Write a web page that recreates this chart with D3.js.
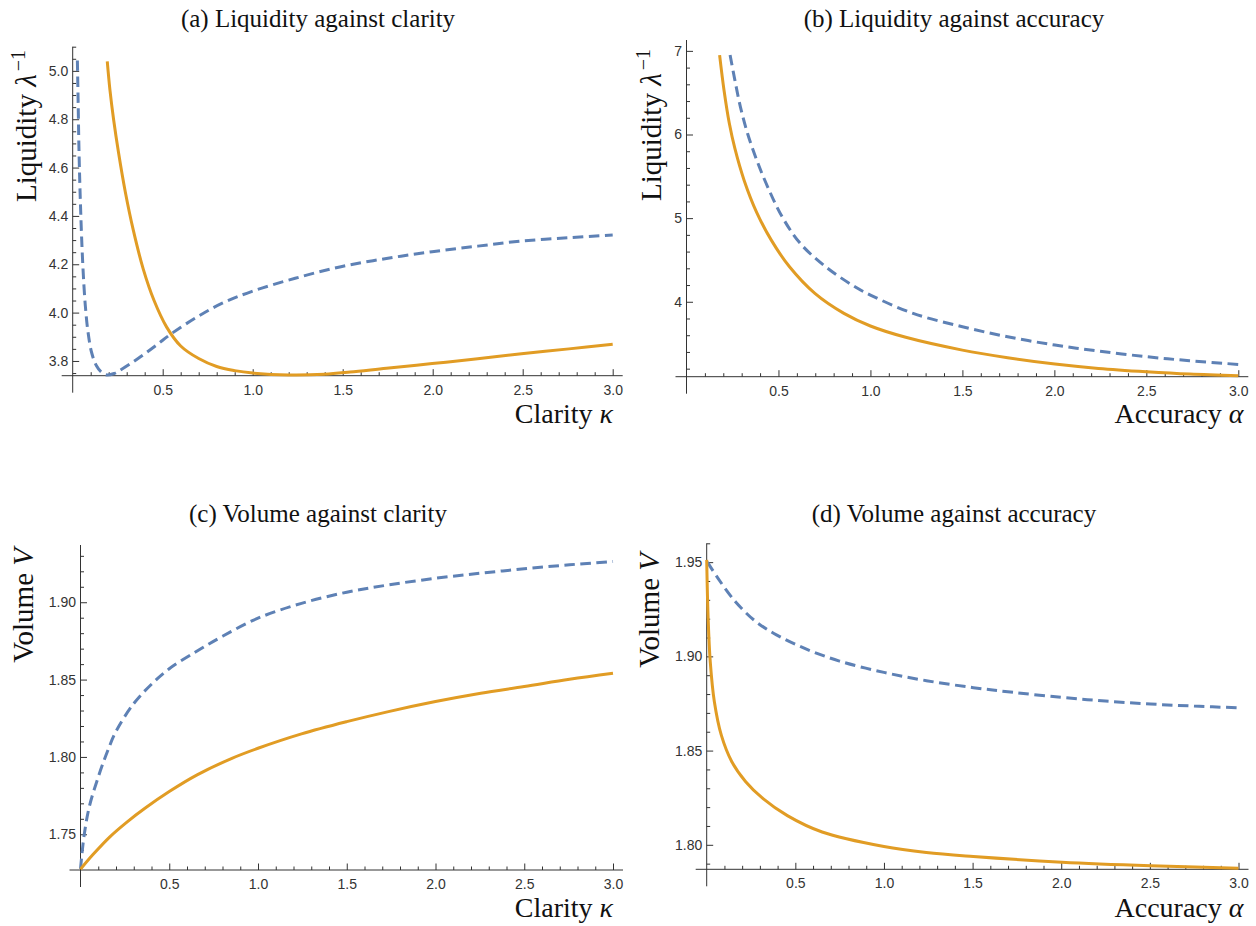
<!DOCTYPE html>
<html>
<head>
<meta charset="utf-8">
<script src="https://cdn.jsdelivr.net/npm/d3@7"></script>
<style>
body { margin: 0; background: #fff; }
.serif { font-family: "Liberation Serif", "Times New Roman", serif; fill: #111; }
</style>
</head>
<body>
<svg id="chart" width="1256" height="926"></svg>
<script>
// ---- data: [x, y] pairs ----
// (a) liquidity vs clarity kappa
const liqClarityDashed = [[0.026,5.043],[0.030,4.88],[0.035,4.67],[0.043,4.45],[0.056,4.2],[0.07,4.03],[0.085,3.92],[0.105,3.835],[0.132,3.78],[0.16,3.753],[0.19,3.742],[0.23,3.748],[0.264,3.762],[0.365,3.811],[0.466,3.866],[0.547,3.912],[0.689,3.981],[0.831,4.039],[0.993,4.087],[1.236,4.142],[1.49,4.19],[1.743,4.224],[1.997,4.252],[2.25,4.275],[2.493,4.296],[2.757,4.310],[3.0,4.321]];
const liqClaritySolid = [[0.192,5.039],[0.207,4.92],[0.227,4.80],[0.255,4.66],[0.292,4.50],[0.337,4.34],[0.392,4.18],[0.452,4.05],[0.522,3.94],[0.6,3.862],[0.7,3.81],[0.8,3.777],[0.9,3.760],[1.0,3.750],[1.2,3.742],[1.399,3.745],[1.541,3.754],[1.743,3.770],[1.997,3.789],[2.25,3.809],[2.493,3.830],[2.757,3.850],[3.0,3.869]];

// (b) liquidity vs accuracy alpha
const liqAccuracyDashed = [[0.237,6.95],[0.263,6.65],[0.293,6.331],[0.332,6.012],[0.382,5.693],[0.441,5.375],[0.52,5.016],[0.619,4.697],[0.757,4.418],[0.916,4.179],[1.0,4.08],[1.232,3.861],[1.5,3.701],[1.746,3.582],[2.003,3.482],[2.24,3.41],[2.501,3.343],[2.735,3.295],[3.0,3.251]];
const liqAccuracySolid = [[0.18,6.95],[0.204,6.53],[0.233,6.131],[0.263,5.833],[0.313,5.454],[0.382,5.066],[0.461,4.737],[0.56,4.418],[0.698,4.10],[0.856,3.861],[1.0,3.71],[1.192,3.575],[1.5,3.422],[1.746,3.331],[2.003,3.255],[2.24,3.203],[2.501,3.163],[2.735,3.135],[3.0,3.116]];

// (c) volume vs clarity kappa
const volClarityDashed = [[0,1.7276],[0.02,1.749],[0.05,1.768],[0.1,1.787],[0.15,1.803],[0.2,1.8165],[0.3,1.8345],[0.4,1.847],[0.5,1.857],[0.65,1.868],[0.8,1.878],[1.0,1.8897],[1.245,1.8993],[1.5,1.9065],[1.735,1.9112],[2.0,1.9155],[2.255,1.9188],[2.5,1.9216],[2.755,1.9242],[3.0,1.9263]];
const volClaritySolid = [[0,1.7274],[0.069,1.7367],[0.167,1.7485],[0.265,1.7582],[0.363,1.7668],[0.5,1.7776],[0.657,1.7884],[0.853,1.7991],[1.0,1.8056],[1.245,1.8149],[1.5,1.8228],[1.735,1.8293],[2.0,1.8358],[2.255,1.8412],[2.5,1.8455],[2.755,1.8502],[3.0,1.8541]];

// (d) volume vs accuracy alpha
const volAccuracyDashed = [[0.004,1.95],[0.063,1.9415],[0.161,1.9291],[0.278,1.9184],[0.396,1.9113],[0.553,1.9042],[0.749,1.8975],[1.0,1.8915],[1.239,1.8871],[1.504,1.8834],[1.729,1.8809],[2.004,1.8782],[2.249,1.8763],[2.504,1.8747],[2.749,1.8736],[3.0,1.8727]];
const volAccuracySolid = [[0,1.9512],[0.008,1.9203],[0.02,1.8972],[0.043,1.876],[0.082,1.8583],[0.141,1.8442],[0.22,1.8335],[0.318,1.8245],[0.455,1.8155],[0.651,1.8068],[1.0,1.7991],[1.239,1.7959],[1.504,1.7938],[2.004,1.7908],[2.504,1.7889],[3.0,1.7876]];

// tick values
const xMajorTicks = [0.5, 1.0, 1.5, 2.0, 2.5, 3.0];
const liqClarityTicks = [3.8, 4.0, 4.2, 4.4, 4.6, 4.8, 5.0];
const liqAccuracyTicks = [4, 5, 6, 7];
const volClarityTicks = [1.75, 1.80, 1.85, 1.90];
const volAccuracyTicks = [1.80, 1.85, 1.90, 1.95];

const blue = "#5E81B5";
const orange = "#E19C24";

const panels = [
    { title: "(a) Liquidity against clarity", titleX: 318, titleY: 27,
      xRange: [72.7, 612.7], yDomain: [3.739, 5.10], yRange: [375.7, 46.7],
      yTicks: liqClarityTicks, yMinorStep: 0.05, yFmt: ".1f",
      yLabel: ["Liquidity ", "λ", "−1"], yLabelX: 36, yLabelTop: 50,
      xLabel: ["Clarity ", "κ"], xLabelRight: 613, xLabelY: 423,
      dashed: liqClarityDashed, solid: liqClaritySolid },
    { title: "(b) Liquidity against accuracy", titleX: 954, titleY: 27,
      xRange: [686.5, 1238.3], yDomain: [3.104, 7.13], yRange: [376.7, 40],
      yTicks: liqAccuracyTicks, yMinorStep: 0.2, yFmt: "d",
      yLabel: ["Liquidity ", "λ", "−1"], yLabelX: 661, yLabelTop: 49,
      xLabel: ["Accuracy ", "α"], xLabelRight: 1243.5, xLabelY: 423,
      dashed: liqAccuracyDashed, solid: liqAccuracySolid },
    { title: "(c) Volume against clarity", titleX: 318, titleY: 522,
      xRange: [80.5, 613], yDomain: [1.7269, 1.937], yRange: [870, 545],
      yTicks: volClarityTicks, yMinorStep: 0.01, yFmt: ".2f",
      yLabel: ["Volume ", "V"], yLabelX: 33, yLabelTop: 548,
      xLabel: ["Clarity ", "κ"], xLabelRight: 613, xLabelY: 917,
      dashed: volClarityDashed, solid: volClaritySolid },
    { title: "(d) Volume against accuracy", titleX: 954, titleY: 522,
      xRange: [706.7, 1238.5], yDomain: [1.787, 1.960], yRange: [869.3, 543.3],
      yTicks: volAccuracyTicks, yMinorStep: 0.01, yFmt: ".2f",
      yLabel: ["Volume ", "V"], yLabelX: 659, yLabelTop: 553,
      xLabel: ["Accuracy ", "α"], xLabelRight: 1243.5, xLabelY: 917,
      dashed: volAccuracyDashed, solid: volAccuracySolid }
];

const svg = d3.select("#chart");
const axisColor = "#333";

function styleAxis(a) {
    a.select(".domain").remove();
    a.attr("font-family", "'Liberation Sans', Arial, sans-serif")
     .attr("font-size", 14)
     .attr("color", axisColor);
}

function drawPanel(p) {
    const x = d3.scaleLinear().domain([0, 3]).range(p.xRange);
    const y = d3.scaleLinear().domain(p.yDomain).range(p.yRange);
    const g = svg.append("g");
    const x0 = p.xRange[0];
    const yBase = p.yRange[0];

    // minor tick values
    const xMinor = d3.range(1, 31).filter(i => i % 5 !== 0).map(i => i / 10);
    const n0 = Math.ceil(p.yDomain[0] / p.yMinorStep - 1e-6);
    const n1 = Math.floor(p.yDomain[1] / p.yMinorStep + 1e-6);
    const yMinor = d3.range(n0, n1 + 1).map(i => +(i * p.yMinorStep).toFixed(4))
        .filter(v => !p.yTicks.some(t => Math.abs(t - v) < 1e-6));

    // axis lines, with Mathematica-style overhang
    g.append("line")
        .attr("x1", x0 - 11).attr("x2", p.xRange[1] + 10)
        .attr("y1", yBase).attr("y2", yBase)
        .attr("stroke", axisColor).attr("stroke-width", 1);
    g.append("line")
        .attr("x1", x0).attr("x2", x0)
        .attr("y1", p.yRange[1]).attr("y2", yBase + 17)
        .attr("stroke", axisColor).attr("stroke-width", 1);

    // x axis ticks (pointing inward)
    g.append("g").attr("transform", `translate(0,${yBase})`)
        .call(d3.axisBottom(x).tickValues(xMinor).tickSize(-3.5).tickFormat(""))
        .call(styleAxis);
    g.append("g").attr("transform", `translate(0,${yBase})`)
        .call(d3.axisBottom(x).tickValues(xMajorTicks).tickSize(-6.5).tickPadding(9).tickFormat(d3.format(".1f")))
        .call(styleAxis);

    // y axis ticks
    g.append("g").attr("transform", `translate(${x0},0)`)
        .call(d3.axisLeft(y).tickValues(yMinor).tickSize(-3.5).tickFormat(""))
        .call(styleAxis);
    g.append("g").attr("transform", `translate(${x0},0)`)
        .call(d3.axisLeft(y).tickValues(p.yTicks).tickSize(-6.5).tickPadding(4.5).tickFormat(d3.format(p.yFmt)))
        .call(styleAxis);

    // curves
    const line = d3.line()
        .x(d => x(d[0]))
        .y(d => y(d[1]))
        .curve(d3.curveCatmullRom.alpha(0.5));

    g.append("path")
        .datum(p.dashed)
        .attr("d", line)
        .attr("fill", "none")
        .attr("stroke", blue)
        .attr("stroke-width", 3)
        .attr("stroke-dasharray", "10.5,5.5");

    g.append("path")
        .datum(p.solid)
        .attr("d", line)
        .attr("fill", "none")
        .attr("stroke", orange)
        .attr("stroke-width", 3);

    // title
    g.append("text")
        .attr("class", "serif")
        .attr("x", p.titleX).attr("y", p.titleY)
        .attr("text-anchor", "middle")
        .attr("font-size", 25)
        .text(p.title);

    // x label
    const xl = g.append("text")
        .attr("class", "serif")
        .attr("x", p.xLabelRight).attr("y", p.xLabelY)
        .attr("text-anchor", "end")
        .attr("font-size", 28);
    xl.append("tspan").text(p.xLabel[0]);
    xl.append("tspan").attr("font-style", "italic").text(p.xLabel[1]);

    // y label (rotated, aligned to top of axis)
    const yl = g.append("text")
        .attr("class", "serif")
        .attr("transform", `translate(${p.yLabelX},${p.yLabelTop}) rotate(-90)`)
        .attr("text-anchor", "end")
        .attr("font-size", 29);
    yl.append("tspan").text(p.yLabel[0]);
    yl.append("tspan").attr("font-style", "italic").text(p.yLabel[1]);
    if (p.yLabel[2]) {
        yl.append("tspan").attr("dy", -11).attr("dx", 3).attr("font-size", 20).text(p.yLabel[2]);
    }
}

panels.forEach(drawPanel);
</script>
</body>
</html>
